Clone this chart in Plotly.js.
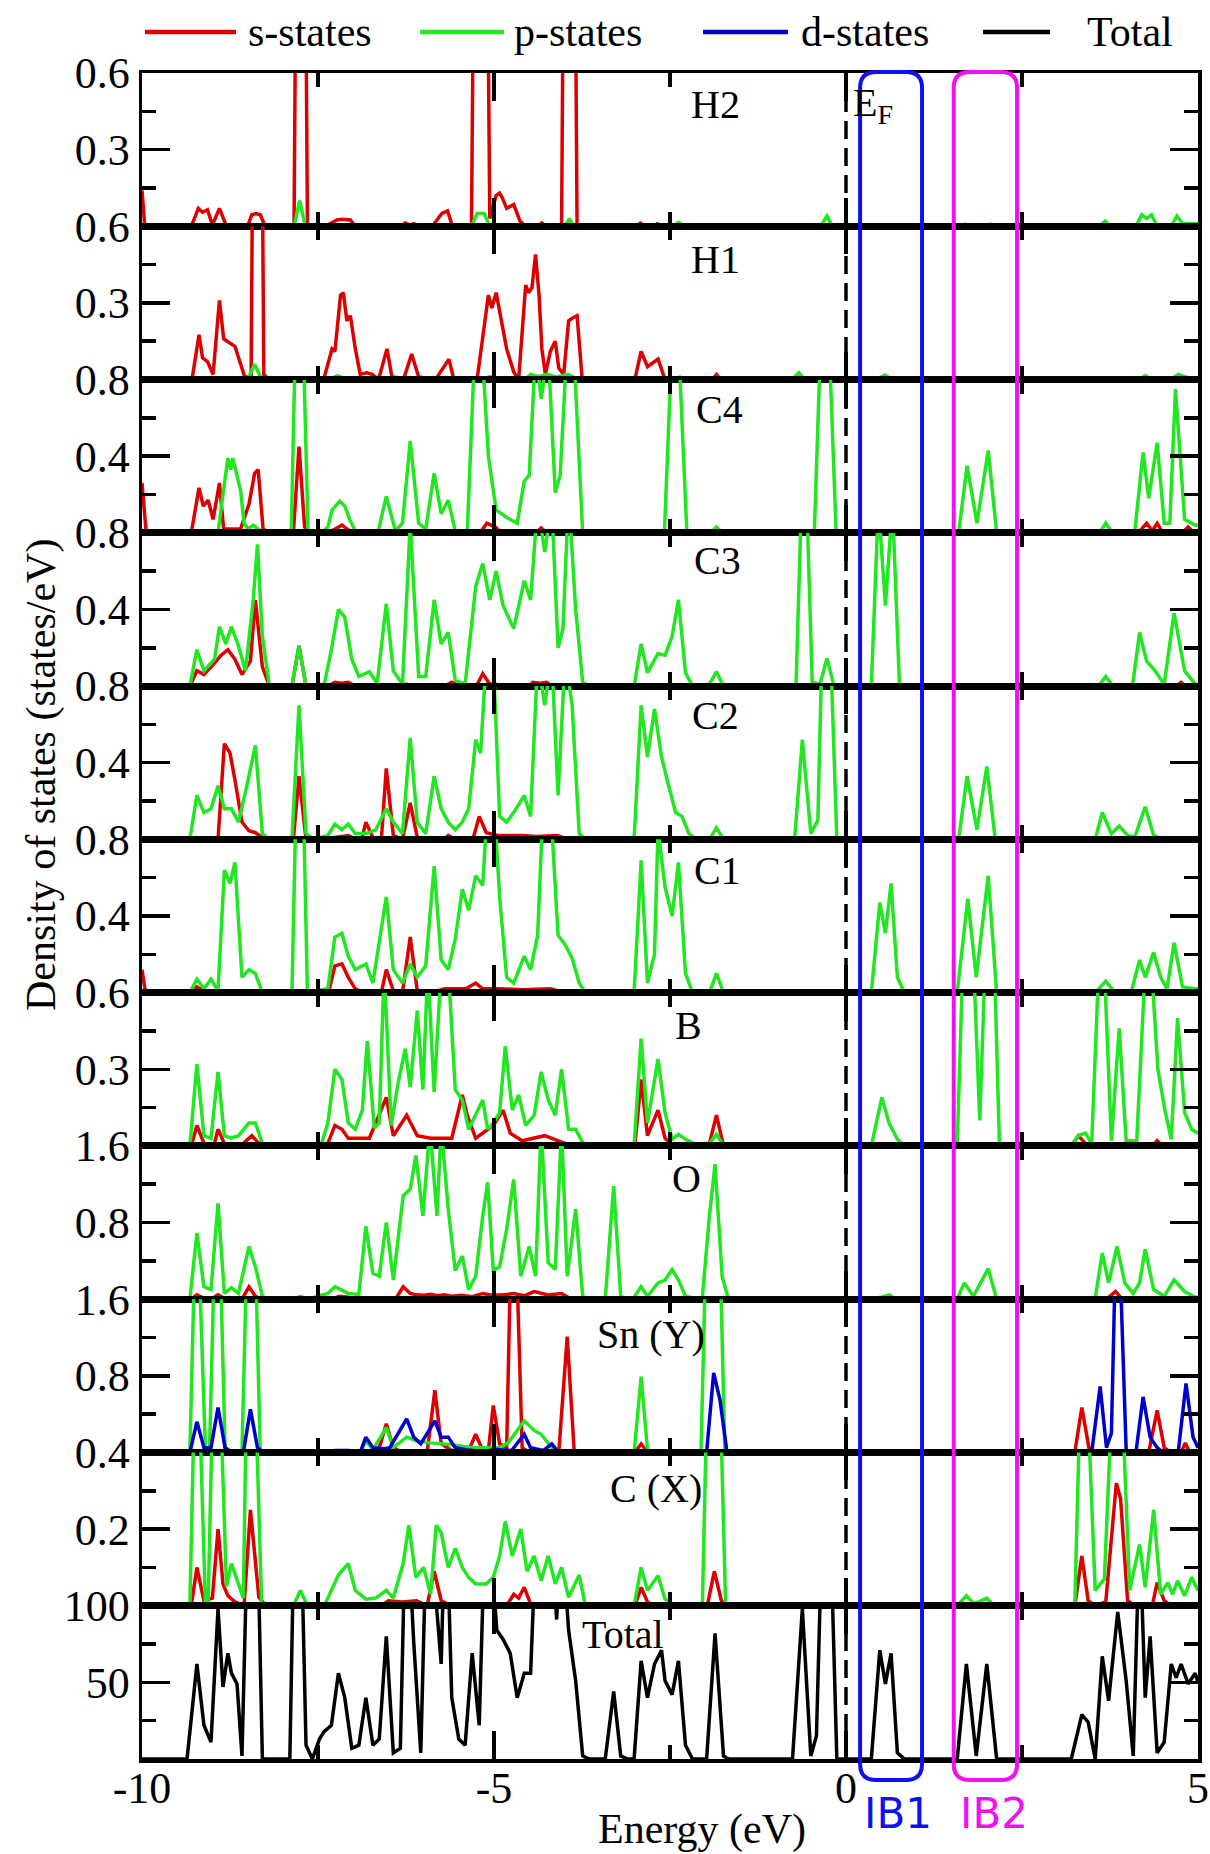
<!DOCTYPE html>
<html><head><meta charset="utf-8">
<script src="https://cdn.plot.ly/plotly-3.0.1.min.js"></script>
<style>html,body{margin:0;padding:0;background:#fff}#chart{width:1210px;height:1854px}</style>
</head><body><div id="chart"></div>
<script>
// ---------------- DATA (energy in eV, DOS in states/eV) ----------------
const H2_s = [[-10,0.14],[-9.96,0],[-9.3,0],[-9.2,0.07],[-9.14,0.055],[-9.07,0.065],[-9.0,0.005],[-8.9,0.07],[-8.8,0],[-8.5,0],[-8.44,0.045],[-8.38,0.05],[-8.32,0.045],[-8.25,0],[-7.84,0],[-7.79,2],[-7.7,2],[-7.65,0],[-7.38,0],[-7.33,0.01],[-7.23,0.025],[-7.16,0.027],[-7.04,0.025],[-6.97,0],[-6.32,0],[-6.26,0.013],[-6.2,0.004],[-6.14,0.01],[-6.06,0],[-5.9,0],[-5.86,0.006],[-5.74,0.05],[-5.66,0.06],[-5.59,0],[-5.32,0],[-5.26,2],[-5.12,2],[-5.06,0.03],[-4.97,0.12],[-4.92,0.13],[-4.88,0.11],[-4.82,0.07],[-4.72,0.085],[-4.63,0.02],[-4.55,0],[-4.38,0],[-4.32,0.013],[-4.26,0],[-4.04,0],[-3.99,2],[-3.87,2],[-3.82,0],[-2.98,0],[-2.92,0.012],[-2.85,0],[-2.74,0],[-2.68,0.01],[-2.6,0],[5,0]];
const H2_p = [[-10,0],[-7.84,0],[-7.76,0.1],[-7.68,0],[-5.32,0],[-5.24,0.05],[-5.14,0.05],[-5.06,0],[-3.99,0],[-3.93,0.03],[-3.87,0],[-2.45,0],[-2.38,0.015],[-2.3,0],[-0.36,0],[-0.27,0.04],[-0.19,0],[1.62,0],[1.69,0.008],[1.76,0],[1.98,0],[2.05,0.008],[2.12,0],[3.6,0],[3.68,0.02],[3.76,0],[4.12,0],[4.2,0.045],[4.27,0.03],[4.34,0.045],[4.42,0],[4.62,0],[4.7,0.04],[4.78,0.01],[5,0.01]];
const H1_s = [[-10,0],[-9.29,0],[-9.19,0.175],[-9.14,0.085],[-9.07,0.07],[-8.99,0.02],[-8.9,0.31],[-8.84,0.16],[-8.79,0.15],[-8.73,0.14],[-8.68,0.13],[-8.61,0.07],[-8.54,0.01],[-8.45,0.01],[-8.4,2],[-8.32,2],[-8.27,0.02],[-8.2,0],[-7.42,0],[-7.3,0.12],[-7.26,0.11],[-7.18,0.33],[-7.14,0.34],[-7.09,0.23],[-7.04,0.25],[-6.97,0.12],[-6.9,0.02],[-6.81,0.026],[-6.73,0.02],[-6.64,0],[-6.52,0.12],[-6.45,0.01],[-6.28,0.005],[-6.17,0.1],[-6.07,0.01],[-5.83,0],[-5.64,0.08],[-5.57,0],[-5.24,0],[-5.08,0.33],[-5.03,0.28],[-4.97,0.34],[-4.91,0.25],[-4.82,0.12],[-4.72,0.03],[-4.65,0],[-4.55,0.37],[-4.51,0.34],[-4.46,0.36],[-4.41,0.49],[-4.36,0.33],[-4.32,0.12],[-4.27,0.02],[-4.2,0.11],[-4.13,0.15],[-4.08,0.045],[-4.01,0.02],[-3.94,0.23],[-3.89,0.24],[-3.82,0.25],[-3.75,0.01],[-3.68,0],[-3.0,0],[-2.91,0.11],[-2.82,0.05],[-2.67,0.08],[-2.57,0],[-1.9,0],[-1.84,0.02],[-1.78,0],[5,0]];
const H1_p = [[-10,0],[-8.5,0],[-8.4,0.06],[-8.3,0],[-7.35,0],[-7.22,0.015],[-7.1,0],[-5.2,0],[-5.05,0.012],[-4.95,0],[-4.56,0],[-4.48,0.02],[-4.36,0.012],[-4.24,0.02],[-4.12,0.01],[-3.95,0.02],[-3.8,0],[-2.42,0],[-2.36,0.01],[-2.3,0],[-0.76,0],[-0.67,0.027],[-0.59,0],[0.44,0],[0.55,0.018],[0.66,0],[4.15,0],[4.25,0.015],[4.35,0],[4.6,0],[4.72,0.02],[4.82,0.01],[5,0]];
const C4_s = [[-10,0.26],[-9.94,0],[-9.3,0],[-9.19,0.235],[-9.13,0.14],[-9.06,0.17],[-8.99,0.07],[-8.9,0.26],[-8.84,0.02],[-8.6,0.02],[-8.48,0.15],[-8.4,0.31],[-8.35,0.33],[-8.28,0.02],[-8.2,0],[-7.85,0],[-7.77,0.45],[-7.69,0.03],[-7.6,0],[-7.35,0],[-7.16,0.04],[-7.05,0.01],[-6.95,0],[-5.2,0],[-5.1,0.05],[-4.98,0.03],[-4.9,0],[-4.4,0],[-4.33,0.026],[-4.25,0],[-3.0,0],[-2.9,0.01],[-2.8,0],[4.15,0],[4.27,0.05],[4.35,0.01],[4.42,0.05],[4.5,0],[4.78,0],[4.86,0.03],[4.94,0],[5,0]];
const C4_p = [[-10,0],[-8.92,0],[-8.85,0.2],[-8.78,0.39],[-8.74,0.33],[-8.71,0.39],[-8.6,0.22],[-8.55,0.05],[-8.49,0.02],[-8.42,0.04],[-8.32,0.01],[-8.25,0],[-7.88,0],[-7.81,1.2],[-7.71,1.0],[-7.64,0],[-7.45,0],[-7.36,0.03],[-7.3,0.12],[-7.19,0.165],[-7.12,0.14],[-7.05,0.07],[-6.97,0.01],[-6.65,0],[-6.53,0.19],[-6.4,0.01],[-6.3,0.05],[-6.19,0.48],[-6.07,0.05],[-5.97,0.02],[-5.85,0.31],[-5.75,0.1],[-5.65,0.17],[-5.55,0.01],[-5.38,0],[-5.27,1.0],[-5.16,0.9],[-5.08,0.4],[-4.97,0.12],[-4.82,0.08],[-4.67,0.05],[-4.57,0.27],[-4.5,0.3],[-4.41,0.95],[-4.33,0.7],[-4.23,0.95],[-4.13,0.21],[-4.06,0.3],[-3.96,1.0],[-3.86,0.9],[-3.74,0],[-2.58,0],[-2.47,1.0],[-2.38,1.0],[-2.26,0],[-1.92,0],[-1.84,0.03],[-1.76,0],[-0.45,0],[-0.36,1.0],[-0.24,1.0],[-0.14,0],[1.6,0],[1.72,0.35],[1.86,0.05],[2.02,0.43],[2.14,0],[3.6,0],[3.69,0.05],[3.78,0],[4.1,0],[4.22,0.42],[4.3,0.18],[4.42,0.47],[4.52,0.05],[4.6,0.05],[4.68,0.75],[4.81,0.07],[4.96,0.04],[5,0.04]];
const C3_s = [[-10,0],[-9.32,0],[-9.22,0.08],[-9.12,0.06],[-8.97,0.12],[-8.88,0.16],[-8.78,0.19],[-8.68,0.14],[-8.58,0.06],[-8.46,0.13],[-8.39,0.45],[-8.29,0.1],[-8.19,0],[-7.87,0],[-7.77,0.21],[-7.67,0],[-7.35,0],[-7.26,0.02],[-7.16,0.015],[-7.07,0.02],[-6.97,0],[-6.3,0],[-6.24,0.01],[-6.18,0],[-5.7,0],[-5.6,0.02],[-5.5,0],[-5.25,0],[-5.16,0.065],[-5.06,0.01],[-4.97,0.01],[-4.9,0],[-4.5,0],[-4.45,0.02],[-4.35,0.015],[-4.25,0.02],[-4.18,0],[4.7,0],[4.76,0.02],[4.82,0],[5,0]];
const C3_p = [[-10,0],[-9.32,0],[-9.22,0.19],[-9.12,0.08],[-8.97,0.14],[-8.9,0.31],[-8.81,0.22],[-8.73,0.31],[-8.63,0.21],[-8.53,0.08],[-8.42,0.45],[-8.36,0.74],[-8.29,0.26],[-8.19,0],[-7.87,0],[-7.77,0.21],[-7.67,0],[-7.41,0.01],[-7.31,0.19],[-7.21,0.4],[-7.12,0.36],[-7.02,0.14],[-6.92,0.05],[-6.77,0.075],[-6.66,0.014],[-6.53,0.43],[-6.43,0.08],[-6.3,0.01],[-6.19,0.85],[-6.07,0.05],[-5.97,0.05],[-5.85,0.45],[-5.75,0.22],[-5.65,0.28],[-5.55,0.03],[-5.41,0.01],[-5.26,0.52],[-5.16,0.64],[-5.06,0.45],[-4.97,0.6],[-4.87,0.42],[-4.72,0.3],[-4.57,0.55],[-4.48,0.45],[-4.38,0.95],[-4.28,0.7],[-4.18,0.95],[-4.09,0.2],[-4.02,0.3],[-3.94,1.0],[-3.84,0.4],[-3.74,0.02],[-3.65,0],[-3.01,0],[-2.91,0.22],[-2.82,0.07],[-2.67,0.17],[-2.57,0.16],[-2.47,0.26],[-2.38,0.45],[-2.28,0.07],[-2.18,0],[-1.94,0.01],[-1.84,0.075],[-1.74,0],[-0.71,0],[-0.63,1.0],[-0.56,1.0],[-0.48,0.02],[-0.37,0.01],[-0.27,0.145],[-0.17,0],[0.36,0],[0.46,0.95],[0.56,0.42],[0.66,0.95],[0.76,0],[3.59,0],[3.69,0.05],[3.79,0],[4.07,0],[4.17,0.28],[4.27,0.13],[4.39,0.08],[4.52,0.01],[4.66,0.38],[4.81,0.08],[4.96,0.01],[5,0.01]];
const C2_s = [[-10,0],[-8.92,0],[-8.83,0.5],[-8.75,0.45],[-8.68,0.31],[-8.58,0.09],[-8.48,0.045],[-8.39,0.035],[-8.24,0],[-7.85,0],[-7.77,0.33],[-7.67,0],[-7.3,0],[-7.26,0.01],[-7.07,0.02],[-6.95,0],[-6.88,0],[-6.82,0.09],[-6.72,0.01],[-6.6,0],[-6.53,0.37],[-6.43,0.02],[-6.3,0],[-6.19,0.19],[-6.09,0.01],[-5.7,0],[-5.65,0.02],[-5.55,0],[-5.3,0],[-5.21,0.12],[-5.11,0.035],[-4.95,0.02],[-4.8,0.02],[-4.6,0.02],[-4.4,0.015],[-4.1,0.02],[-3.95,0],[5,0]];
const C2_p = [[-10,0],[-9.32,0],[-9.22,0.23],[-9.12,0.14],[-9.02,0.16],[-8.92,0.28],[-8.83,0.16],[-8.73,0.16],[-8.63,0.09],[-8.51,0.28],[-8.39,0.49],[-8.29,0.03],[-8.19,0],[-7.87,0],[-7.77,0.7],[-7.67,0.03],[-7.56,0],[-7.36,0.02],[-7.26,0.08],[-7.16,0.05],[-7.07,0.08],[-6.97,0.03],[-6.82,0.03],[-6.68,0.05],[-6.53,0.16],[-6.43,0.09],[-6.3,0.03],[-6.19,0.53],[-6.09,0.09],[-5.97,0.03],[-5.85,0.33],[-5.75,0.16],[-5.65,0.09],[-5.55,0.05],[-5.45,0.09],[-5.36,0.16],[-5.26,0.52],[-5.19,0.45],[-5.11,0.95],[-5.01,0.95],[-4.92,0.12],[-4.82,0.09],[-4.72,0.14],[-4.57,0.23],[-4.48,0.12],[-4.38,0.95],[-4.28,0.7],[-4.18,0.95],[-4.09,0.23],[-3.99,0.95],[-3.89,0.7],[-3.79,0.03],[-3.7,0],[-3.01,0],[-2.91,0.7],[-2.82,0.43],[-2.72,0.68],[-2.62,0.43],[-2.52,0.28],[-2.42,0.14],[-2.33,0.12],[-2.23,0.03],[-2.13,0],[-1.94,0],[-1.84,0.06],[-1.74,0],[-0.73,0],[-0.62,0.52],[-0.5,0.03],[-0.4,0.1],[-0.34,1.0],[-0.22,1.0],[-0.13,0],[0.45,0],[0.55,0.01],[0.65,0],[1.6,0],[1.72,0.33],[1.86,0.05],[2.0,0.38],[2.12,0],[3.54,0],[3.64,0.14],[3.77,0.03],[3.88,0.07],[4.0,0.02],[4.1,0.01],[4.25,0.17],[4.37,0.02],[4.5,0],[5,0.01]];
const C1_s = [[-10,0.12],[-9.95,0],[-9.3,0],[-9.22,0.03],[-9.12,0.01],[-9.0,0],[-7.35,0],[-7.26,0.14],[-7.16,0.15],[-7.07,0.08],[-6.97,0.02],[-6.85,0],[-6.6,0],[-6.53,0.12],[-6.43,0.01],[-6.3,0],[-6.19,0.29],[-6.09,0.01],[-5.9,0],[-5.7,0.02],[-5.4,0.02],[-5.26,0.05],[-5.16,0.02],[-4.9,0.02],[-4.6,0.015],[-4.2,0.02],[-4.0,0],[5,0]];
const C1_p = [[-10,0],[-9.32,0],[-9.22,0.07],[-9.12,0.02],[-9.02,0.07],[-8.92,0.01],[-8.83,0.64],[-8.75,0.57],[-8.68,0.68],[-8.58,0.08],[-8.48,0.12],[-8.39,0.1],[-8.29,0],[-7.87,0],[-7.8,1.2],[-7.72,1.2],[-7.65,0],[-7.36,0.02],[-7.26,0.29],[-7.16,0.31],[-7.07,0.19],[-6.97,0.12],[-6.82,0.15],[-6.72,0.05],[-6.53,0.5],[-6.43,0.12],[-6.3,0.05],[-6.19,0.15],[-6.09,0.08],[-5.97,0.14],[-5.85,0.66],[-5.75,0.17],[-5.65,0.12],[-5.55,0.28],[-5.45,0.54],[-5.36,0.43],[-5.26,0.61],[-5.16,0.56],[-5.09,1.0],[-5.0,1.0],[-4.92,0.5],[-4.82,0.08],[-4.72,0.05],[-4.57,0.19],[-4.48,0.12],[-4.38,0.3],[-4.3,1.0],[-4.2,1.0],[-4.09,0.3],[-3.99,0.25],[-3.89,0.18],[-3.79,0.05],[-3.7,0],[-3.01,0],[-2.91,0.69],[-2.82,0.05],[-2.72,0.2],[-2.67,0.85],[-2.57,0.55],[-2.47,0.4],[-2.38,0.68],[-2.28,0.1],[-2.18,0],[-1.94,0],[-1.84,0.1],[-1.74,0],[0.36,0],[0.48,0.47],[0.56,0.31],[0.64,0.57],[0.73,0.08],[0.83,0],[1.58,0],[1.73,0.49],[1.85,0.08],[2.02,0.61],[2.14,0],[3.54,0],[3.69,0.06],[3.8,0.01],[4.05,0],[4.17,0.17],[4.25,0.08],[4.37,0.21],[4.47,0.08],[4.56,0.02],[4.66,0.26],[4.78,0.03],[4.96,0.02],[5,0.02]];
const B_s = [[-10,0],[-9.3,0],[-9.22,0.08],[-9.12,0.01],[-8.98,0],[-8.92,0.065],[-8.83,0.01],[-8.6,0],[-8.44,0.04],[-8.34,0.01],[-8.2,0],[-7.42,0],[-7.36,0.01],[-7.26,0.08],[-7.16,0.065],[-7.07,0.03],[-6.77,0.03],[-6.53,0.19],[-6.43,0.04],[-6.24,0.12],[-6.09,0.04],[-5.9,0.03],[-5.6,0.03],[-5.45,0.2],[-5.38,0.12],[-5.26,0.03],[-5.01,0.08],[-4.87,0.14],[-4.77,0.05],[-4.6,0.02],[-4.28,0.04],[-4.1,0.02],[-3.9,0],[-3.0,0],[-2.91,0.26],[-2.82,0.04],[-2.67,0.14],[-2.57,0.03],[-2.45,0],[-1.94,0.01],[-1.84,0.12],[-1.74,0],[3.2,0],[3.3,0.04],[3.4,0.01],[3.5,0],[4.35,0],[4.42,0.02],[4.5,0],[5,0]];
const B_p = [[-10,0],[-9.32,0],[-9.22,0.32],[-9.12,0.04],[-9.02,0.03],[-8.92,0.29],[-8.83,0.04],[-8.73,0.03],[-8.63,0.04],[-8.48,0.09],[-8.39,0.09],[-8.29,0.01],[-8.19,0],[-7.46,0],[-7.36,0.09],[-7.26,0.3],[-7.16,0.26],[-7.07,0.09],[-6.97,0.065],[-6.87,0.14],[-6.8,0.41],[-6.7,0.07],[-6.63,0.09],[-6.56,0.7],[-6.46,0.08],[-6.36,0.25],[-6.26,0.38],[-6.19,0.23],[-6.09,0.53],[-6.01,0.22],[-5.94,0.7],[-5.85,0.21],[-5.75,0.7],[-5.65,0.7],[-5.55,0.22],[-5.45,0.18],[-5.36,0.065],[-5.26,0.12],[-5.16,0.18],[-5.09,0.065],[-5.01,0.09],[-4.92,0.13],[-4.84,0.39],[-4.74,0.14],[-4.65,0.2],[-4.55,0.08],[-4.43,0.12],[-4.33,0.29],[-4.23,0.18],[-4.13,0.12],[-4.04,0.3],[-3.94,0.065],[-3.84,0.065],[-3.74,0.013],[-3.65,0],[-3.01,0],[-2.91,0.42],[-2.82,0.09],[-2.67,0.34],[-2.57,0.13],[-2.47,0.026],[-2.38,0.045],[-2.28,0.026],[-2.1,0],[-1.94,0.01],[-1.84,0.045],[-1.74,0],[0.36,0],[0.51,0.19],[0.61,0.09],[0.73,0.026],[0.83,0],[1.58,0],[1.68,0.9],[1.8,0.8],[1.9,0.1],[2.0,0.9],[2.1,0.8],[2.18,0],[3.2,0],[3.3,0.04],[3.4,0.05],[3.49,0.01],[3.59,0.7],[3.67,0.7],[3.77,0.02],[3.88,0.46],[3.98,0.02],[4.13,0.02],[4.25,0.7],[4.34,0.7],[4.43,0.3],[4.53,0.14],[4.62,0.026],[4.71,0.5],[4.81,0.13],[4.91,0.065],[5,0.05]];
const O_s = [[-10,0],[-9.3,0],[-9.22,0.045],[-9.12,0.01],[-9.0,0.01],[-8.92,0.045],[-8.83,0.01],[-8.58,0],[-8.48,0.13],[-8.39,0.03],[-8.3,0],[-7.3,0],[-7.2,0.03],[-7.07,0.02],[-6.95,0],[-6.4,0],[-6.29,0.13],[-6.19,0.06],[-6.1,0.045],[-5.99,0.04],[-5.9,0.05],[-5.8,0.035],[-5.7,0.045],[-5.6,0.03],[-5.46,0.04],[-5.31,0.025],[-5.16,0.06],[-5.01,0.04],[-4.86,0.045],[-4.72,0.06],[-4.57,0.035],[-4.43,0.08],[-4.23,0.045],[-4.04,0.06],[-3.9,0],[3.7,0],[3.83,0.08],[3.92,0],[5,0]];
const O_p = [[-10,0],[-9.32,0],[-9.22,0.69],[-9.12,0.13],[-9.02,0.1],[-8.92,1.0],[-8.83,0.06],[-8.73,0.12],[-8.63,0.06],[-8.48,0.55],[-8.39,0.34],[-8.29,0.03],[-8.19,0],[-7.85,0],[-7.75,0.03],[-7.65,0],[-7.36,0.06],[-7.26,0.13],[-7.07,0.06],[-6.92,0.05],[-6.82,0.76],[-6.72,0.27],[-6.63,0.24],[-6.53,0.8],[-6.43,0.2],[-6.29,1.08],[-6.19,1.15],[-6.11,1.5],[-6.01,0.87],[-5.91,1.8],[-5.81,0.87],[-5.75,1.8],[-5.65,0.94],[-5.55,0.3],[-5.45,0.45],[-5.36,0.1],[-5.26,0.24],[-5.16,0.87],[-5.09,1.22],[-5.01,0.3],[-4.92,0.34],[-4.82,0.73],[-4.72,1.25],[-4.62,0.24],[-4.5,0.55],[-4.41,0.24],[-4.33,1.8],[-4.23,0.38],[-4.13,0.31],[-4.04,1.8],[-3.96,0.24],[-3.84,0.94],[-3.74,0.03],[-3.65,0],[-3.42,0],[-3.3,1.18],[-3.2,0.03],[-3.1,0],[-3.01,0.02],[-2.91,0.13],[-2.82,0.03],[-2.67,0.17],[-2.57,0.2],[-2.47,0.31],[-2.38,0.2],[-2.28,0.03],[-2.1,0],[-2.04,0.02],[-1.94,0.87],[-1.86,1.41],[-1.76,0.24],[-1.67,0],[0.3,0],[0.5,0.02],[0.62,0.045],[0.7,0],[1.58,0],[1.68,0.17],[1.81,0.03],[2.02,0.32],[2.14,0],[3.54,0.01],[3.64,0.48],[3.73,0.17],[3.85,0.55],[3.96,0.17],[4.08,0.06],[4.17,0.17],[4.25,0.52],[4.37,0.1],[4.52,0.03],[4.66,0.2],[4.81,0.08],[4.96,0.02],[5,0.02]];
const Sn_s = [[-10,0],[-6.65,0],[-6.53,0.3],[-6.43,0.05],[-6.3,0],[-5.95,0],[-5.84,0.65],[-5.75,0.09],[-5.6,0.02],[-5.36,0.02],[-5.26,0.19],[-5.16,0.02],[-5.08,0.02],[-5.01,0.49],[-4.92,0.09],[-4.82,0.05],[-4.77,1.8],[-4.67,1.8],[-4.6,0.05],[-4.5,0],[-4.08,0],[-3.96,1.21],[-3.86,0],[-3.0,0],[-2.91,0.09],[-2.82,0],[3.25,0],[3.35,0.47],[3.45,0.05],[3.55,0],[4.3,0],[4.42,0.44],[4.52,0.05],[4.62,0],[4.76,0],[4.82,0.1],[4.88,0],[5,0]];
const Sn_p = [[-10,0],[-9.32,0],[-9.26,1.8],[-9.18,1.8],[-9.1,0.05],[-9.04,0.03],[-8.98,1.8],[-8.88,1.8],[-8.82,0.05],[-8.72,0],[-8.58,0],[-8.52,1.8],[-8.38,1.8],[-8.32,0],[-7.3,0],[-7.2,0.01],[-7.0,0],[-6.9,0],[-6.82,0.12],[-6.72,0.03],[-6.53,0.26],[-6.43,0.05],[-6.24,0.16],[-6.09,0.12],[-5.9,0.1],[-5.6,0.08],[-5.31,0.05],[-4.92,0.05],[-4.8,0.1],[-4.57,0.33],[-4.43,0.23],[-4.33,0.19],[-4.18,0.05],[-4.05,0],[-3.01,0],[-2.91,0.79],[-2.82,0.03],[-2.72,0],[-2.06,0],[-2.0,1.8],[-1.78,1.8],[-1.72,0],[1.7,0],[1.75,0.01],[1.8,0],[5,0]];
const Sn_d = [[-10,0],[-9.32,0],[-9.22,0.32],[-9.12,0.05],[-9.02,0.05],[-8.92,0.47],[-8.82,0.05],[-8.72,0],[-8.56,0],[-8.46,0.45],[-8.36,0.05],[-8.28,0],[-7.35,0],[-7.26,0.02],[-7.07,0.02],[-6.95,0],[-6.9,0],[-6.82,0.16],[-6.72,0.05],[-6.55,0.04],[-6.48,0.05],[-6.24,0.35],[-6.14,0.16],[-6.04,0.09],[-5.84,0.33],[-5.75,0.16],[-5.65,0.16],[-5.55,0.05],[-5.41,0.03],[-5.2,0.01],[-4.95,0.03],[-4.75,0.02],[-4.57,0.19],[-4.48,0.05],[-4.3,0.02],[-4.18,0.09],[-4.08,0],[-1.98,0],[-1.88,0.83],[-1.79,0.55],[-1.69,0],[3.49,0],[3.61,0.69],[3.7,0.05],[3.77,0.2],[3.82,1.8],[3.9,1.8],[3.98,0.02],[4.12,0.01],[4.22,0.58],[4.32,0.16],[4.42,0.05],[4.5,0],[4.72,0.01],[4.83,0.72],[4.93,0.16],[5,0.05]];
const CX_s = [[-10,0],[-9.3,0],[-9.22,0.1],[-9.12,0.013],[-9.0,0.02],[-8.92,0.2],[-8.85,0.057],[-8.78,0.026],[-8.68,0.01],[-8.55,0],[-8.46,0.25],[-8.34,0.022],[-8.24,0],[-6.6,0],[-6.5,0.013],[-6.3,0.01],[-6.1,0.013],[-5.95,0],[-5.85,0.09],[-5.75,0.013],[-5.6,0],[-4.82,0],[-4.72,0.03],[-4.65,0.02],[-4.57,0.048],[-4.47,0],[-3.0,0],[-2.91,0.048],[-2.82,0.01],[-2.74,0],[-1.97,0],[-1.87,0.09],[-1.77,0.013],[-1.7,0],[3.25,0],[3.35,0.13],[3.44,0.013],[3.54,0],[3.69,0.01],[3.84,0.32],[3.9,0.28],[4.0,0.013],[4.1,0],[4.35,0],[4.42,0.06],[4.52,0.013],[4.62,0],[5,0]];
const CX_p = [[-10,0],[-9.32,0],[-9.26,0.5],[-9.18,0.5],[-9.1,0.01],[-9.06,0.01],[-9.0,0.5],[-8.88,0.5],[-8.8,0.05],[-8.73,0.11],[-8.63,0.057],[-8.56,0.02],[-8.52,0.5],[-8.38,0.5],[-8.3,0],[-7.85,0],[-7.75,0.04],[-7.65,0],[-7.41,0],[-7.31,0.04],[-7.21,0.08],[-7.07,0.11],[-6.97,0.04],[-6.82,0.017],[-6.68,0.02],[-6.53,0.04],[-6.43,0.02],[-6.29,0.11],[-6.21,0.21],[-6.11,0.074],[-6.0,0.1],[-5.9,0.03],[-5.82,0.21],[-5.75,0.19],[-5.65,0.1],[-5.55,0.15],[-5.45,0.1],[-5.36,0.074],[-5.26,0.057],[-5.11,0.057],[-5.01,0.074],[-4.92,0.13],[-4.84,0.22],[-4.74,0.13],[-4.62,0.2],[-4.53,0.09],[-4.43,0.13],[-4.33,0.065],[-4.23,0.13],[-4.13,0.057],[-4.04,0.1],[-3.94,0.022],[-3.79,0.08],[-3.7,0],[-3.01,0],[-2.91,0.1],[-2.82,0.04],[-2.67,0.078],[-2.57,0.017],[-2.45,0],[-2.04,0],[-1.98,0.5],[-1.78,0.5],[-1.71,0],[1.58,0],[1.71,0.026],[1.82,0.005],[2.0,0.02],[2.1,0],[3.25,0],[3.32,0.5],[3.44,0.5],[3.54,0.04],[3.67,0.07],[3.77,0.5],[3.93,0.5],[4.03,0.04],[4.17,0.16],[4.25,0.048],[4.37,0.25],[4.47,0.03],[4.57,0.06],[4.64,0.03],[4.71,0.065],[4.81,0.026],[4.91,0.074],[5,0.04]];
const Total_dos = [[-10,0],[-9.36,0],[-9.22,62],[-9.12,22],[-9.02,11],[-8.92,98],[-8.85,47],[-8.78,69],[-8.73,56],[-8.65,49],[-8.58,2],[-8.5,150],[-8.36,150],[-8.29,0],[-7.9,0],[-7.84,150],[-7.74,150],[-7.67,9],[-7.58,0],[-7.48,13],[-7.41,18],[-7.31,22],[-7.21,56],[-7.12,40],[-7.02,7],[-6.92,9],[-6.82,40],[-6.72,9],[-6.63,13],[-6.53,80],[-6.43,4],[-6.33,7],[-6.26,150],[-6.2,130],[-6.14,76],[-6.04,4],[-5.96,150],[-5.87,130],[-5.75,62],[-5.7,150],[-5.65,120],[-5.6,40],[-5.5,13],[-5.41,9],[-5.31,69],[-5.21,22],[-5.13,150],[-5.03,130],[-4.96,84],[-4.87,78],[-4.77,69],[-4.67,40],[-4.57,56],[-4.48,56],[-4.4,150],[-4.28,98],[-4.2,150],[-4.11,91],[-4.04,150],[-3.94,84],[-3.84,51],[-3.74,2],[-3.65,0],[-3.42,0],[-3.3,44],[-3.2,2],[-3.1,0],[-3.01,0],[-2.91,64],[-2.82,40],[-2.72,62],[-2.62,71],[-2.57,51],[-2.47,42],[-2.38,64],[-2.28,9],[-2.18,0],[-1.98,0],[-1.86,82],[-1.74,2],[-1.67,0],[-0.76,0],[-0.62,98],[-0.5,2],[-0.42,15],[-0.34,150],[-0.22,150],[-0.13,0],[0.36,0],[0.48,71],[0.56,49],[0.64,69],[0.73,4],[0.83,0],[1.58,0],[1.71,62],[1.85,2],[2.0,62],[2.14,0],[3.2,0],[3.35,29],[3.44,24],[3.54,0],[3.64,67],[3.73,38],[3.86,96],[3.98,51],[4.08,2],[4.17,150],[4.25,40],[4.32,80],[4.42,4],[4.52,11],[4.62,62],[4.69,53],[4.76,62],[4.86,49],[4.96,56],[5,50]];

const panelNames = ['H2','H1','C4','C3','C2','C1','B','O','Sn (Y)','C (X)','Total'];
const panelYMax  = [0.6,0.6,0.8,0.8,0.8,0.8,0.6,1.6,1.6,0.4,100];
const panelYTickText = [['0.3','0.6'],['0.3','0.6'],['0.4','0.8'],['0.4','0.8'],['0.4','0.8'],['0.4','0.8'],['0.3','0.6'],['0.8','1.6'],['0.8','1.6'],['0.2','0.4'],['50','100']];
const energyRange = [-10, 5];
const xTickVals = [-10, -5, 0, 5];
const xTickText = ['-10', '-5', '0', '5'];
const seriesNames = ['s-states', 'p-states', 'd-states', 'Total'];
const ibNames = ['IB1', 'IB2'];
const ibFrom = [0.2, 1.53];
const ibTo = [1.08, 2.43];

// ---------------- STYLE / LAYOUT ----------------
const panelSeries = [
  {s:H2_s, p:H2_p}, {s:H1_s, p:H1_p}, {s:C4_s, p:C4_p}, {s:C3_s, p:C3_p},
  {s:C2_s, p:C2_p}, {s:C1_s, p:C1_p}, {s:B_s, p:B_p}, {s:O_s, p:O_p},
  {s:Sn_s, p:Sn_p, d:Sn_d}, {s:CX_s, p:CX_p}, {t:Total_dos}
];
const colors = {s:'#dd0000', p:'#22e622', d:'#0000cc', t:'#000000'};
const ibColors = ['#1010f0', '#f010f0'];
const FONT = 'Liberation Serif, Times New Roman, serif';
const W = 1210, H = 1854;
const M = {l:142, r:12, t:73, b:95};
const PW = W - M.l - M.r, PH = H - M.t - M.b;
const N = panelNames.length;
const pxX = px => (px - M.l) / PW;
const pxY = py => (H - M.b - py) / PH;
const evX = e => (e - energyRange[0]) / (energyRange[1] - energyRange[0]);
const labelEv = [-1.85,-1.85,-1.8,-1.82,-1.85,-1.82,-2.24,-2.26,-2.77,-2.7,-3.17];
const labelDy = [31,33,30,28,29,31,33,33,35,36,29];

const traces = [];
const layout = {
  width: W, height: H, margin: M, paper_bgcolor:'#fff', plot_bgcolor:'#fff',
  showlegend: false, font:{family:FONT, color:'#000', size:40},
  shapes: [], annotations: []
};
for (let i = 0; i < N; i++) {
  const k = i + 1, sfx = k > 1 ? String(k) : '';
  const ps = panelSeries[i];
  ['s','p','d','t'].forEach(key => {
    if (!ps[key]) return;
    traces.push({
      x: ps[key].map(d => d[0]), y: ps[key].map(d => d[1]),
      xaxis: 'x' + sfx, yaxis: 'y' + sfx, type: 'scatter', mode: 'lines',
      line: {color: colors[key], width: 3.5}, hoverinfo: 'skip', showlegend: false
    });
  });
  const ymax = panelYMax[i];
  layout['xaxis' + sfx] = {
    domain:[0,1], anchor:'y' + sfx, range: energyRange, tickmode:'array',
    tickvals: xTickVals, ticktext: xTickText, ticks:'inside', ticklen:28, tickwidth:3.5, tickcolor:'#000',
    minor:{tickmode:'array', tickvals:[-7.5,-2.5,2.5], ticks:'inside', ticklen:14, tickwidth:3.5, tickcolor:'#000'},
    mirror:'ticks', showline:true, linecolor:'#000', linewidth:3.5, showgrid:false, zeroline:false,
    showticklabels: k === N, tickfont:{family:FONT, size:44, color:'#000'}, ticklabelstandoff: -12
  };
  const t = i / N, b = (i + 1) / N;
  layout['yaxis' + sfx] = {
    domain:[1 - b, 1 - t], anchor:'x' + sfx, range:[0, ymax], tickmode:'array',
    tickvals:[ymax/2, ymax], ticktext: panelYTickText[i], ticks:'inside', ticklen:28, tickwidth:3.5, tickcolor:'#000',
    minor:{tickmode:'array', tickvals:[ymax/4, 3*ymax/4], ticks:'inside', ticklen:14, tickwidth:3.5, tickcolor:'#000'},
    mirror:'ticks', showline:true, linecolor:'#000', linewidth:3.5, showgrid:false, zeroline:false,
    tickfont:{family:FONT, size:44, color:'#000'}, ticklabelstandoff: 0
  };
  const panelTopPx = M.t + PH * t;
  layout.annotations.push({
    xref:'paper', yref:'paper', x: evX(labelEv[i]), y: pxY(panelTopPx + labelDy[i]),
    text: panelNames[i], showarrow:false, xanchor:'center', yanchor:'middle',
    font:{family:FONT, size:40, color:'#000'}
  });
}

// Fermi level dashed line
layout.shapes.push({type:'line', xref:'paper', yref:'paper', x0:evX(0), x1:evX(0), y0:0, y1:1,
  line:{color:'#000', width:3.5, dash:'18px,9px'}});
layout.annotations.push({xref:'paper', yref:'paper', x:pxX(851), y:pxY(78), xanchor:'left', yanchor:'top',
  text:'E<sub>F</sub>', showarrow:false, font:{family:FONT, size:40, color:'#000'}});

// Intermediate band boxes
function roundRect(x0, x1, yT, yB, r) {
  const rx = r / PW, ry = r / PH;
  return `M ${x0},${yB+ry} L ${x0},${yT-ry} Q ${x0},${yT} ${x0+rx},${yT} L ${x1-rx},${yT} Q ${x1},${yT} ${x1},${yT-ry} ` +
         `L ${x1},${yB+ry} Q ${x1},${yB} ${x1-rx},${yB} L ${x0+rx},${yB} Q ${x0},${yB} ${x0},${yB+ry} Z`;
}
const ibLabelEv = [0.74, 2.1];
ibNames.forEach((nm, j) => {
  layout.shapes.push({type:'path', xref:'paper', yref:'paper',
    path: roundRect(evX(ibFrom[j]), evX(ibTo[j]), pxY(72), pxY(1780), 16),
    line:{color: ibColors[j], width:4}, fillcolor:'rgba(0,0,0,0)'});
  layout.annotations.push({xref:'paper', yref:'paper', x: evX(ibLabelEv[j]), y: pxY(1813),
    xanchor:'center', yanchor:'middle', text: nm, showarrow:false,
    font:{family:'DejaVu Sans, sans-serif', size:42, color: ibColors[j]}});
});

// Legend (drawn manually to match the long line samples)
const legLine = [[145,236],[420,504],[703,788],[983,1050]];
const legText = [246, 512, 799, 1085];
const legKeys = ['s','p','d','t'];
seriesNames.forEach((nm, j) => {
  layout.shapes.push({type:'line', xref:'paper', yref:'paper', x0:pxX(legLine[j][0]), x1:pxX(legLine[j][1]),
    y0:pxY(32), y1:pxY(32), line:{color: colors[legKeys[j]], width:4.5}});
  layout.annotations.push({xref:'paper', yref:'paper', x:pxX(legText[j]), y:pxY(32), xanchor:'left', yanchor:'middle',
    text: nm, showarrow:false, font:{family:FONT, size:42, color:'#000'}});
});

// Axis titles
layout.annotations.push({xref:'paper', yref:'paper', x:pxX(41), y:pxY(775), xanchor:'center', yanchor:'middle',
  textangle:-90, text:'Density of states (states/eV)', showarrow:false, font:{family:FONT, size:42, color:'#000'}});
layout.annotations.push({xref:'paper', yref:'paper', x:pxX(702), y:pxY(1830), xanchor:'center', yanchor:'middle',
  text:'Energy (eV)', showarrow:false, font:{family:FONT, size:42, color:'#000'}});

Plotly.newPlot('chart', traces, layout, {displayModeBar:false, staticPlot:true});
</script></body></html>
